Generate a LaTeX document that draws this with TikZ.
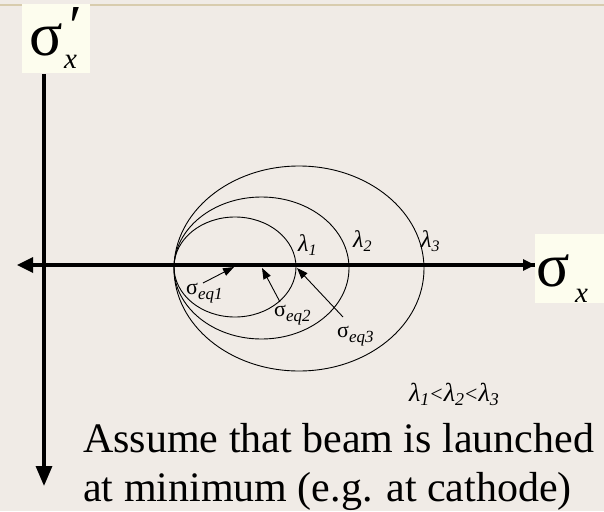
\documentclass[tikz,border=0pt]{standalone}
\usepackage{fontspec}
\setmainfont{Liberation Serif}
\usetikzlibrary{arrows.meta}
\definecolor{bgc}{RGB}{240,235,230}
\definecolor{boxc}{RGB}{253,253,238}
\definecolor{topc}{RGB}{216,204,174}
\newcommand{\fs}[1]{\fontsize{#1}{#1}\selectfont}
\tikzset{
  axis/.style={line width=3.3pt, black},
  ell/.style={line width=0.9pt, black},
  eqarrow/.style={line width=0.9pt, -{Triangle[length=11pt,width=8pt]}},
  lbl/.style={inner sep=0pt, anchor=base west},
  labelbox/.style={fill=boxc, draw=none}
}
\begin{document}
\begin{tikzpicture}[x=1pt,y=-1pt]
\useasboundingbox (0,0) rectangle (604,511);
\fill[bgc] (0,0) rectangle (604,511);
\draw[topc, line width=1.6pt] (0,5) -- (604,5);

% ellipses
\draw[ell] (235,267) ellipse [x radius=61, y radius=50];
\draw[ell] (261.5,268) ellipse [x radius=87.5, y radius=71];
\draw[ell] (299,268.5) ellipse [x radius=125, y radius=102.5];

% axes
\coordinate (vtop) at (44,74);
\coordinate (vbot) at (44,486);
\coordinate (hl) at (17,265);
\coordinate (hr) at (535,265);
\draw[axis, -{Triangle[length=20pt,width=16pt]}] (vtop) -- (vbot);
\draw[axis, -{Triangle[length=16pt,width=15pt]}] (536,265) -- (hl);
\draw[axis, -{Triangle[length=12pt,width=11pt]}] (46,265) -- (hr);

% axis labels
\fill[labelbox] (22,4) rectangle (90,73);
\node[lbl] (sy) at (29,56) {\fs{62}σ};
\node[lbl] (syx) at (64,68) {\fs{29}\itshape x};
\node[inner sep=0pt, anchor=north west] (syp) at (69,7) {\fs{58}′};
\fill[labelbox] (535,234) rectangle (604,303);
\node[lbl] (sx) at (536,286) {\fs{62}σ};
\node[lbl] (sxx) at (575,302) {\fs{29}\itshape x};

% lambda labels
\node[lbl] (l1) at (298,251) {\fs{24}\itshape λ\raisebox{-4pt}{\fs{16}1}};
\node[lbl] (l2) at (353,247) {\fs{24}\itshape λ\raisebox{-4pt}{\fs{16}2}};
\node[lbl] (l3) at (421,247) {\fs{24}\itshape λ\raisebox{-4pt}{\fs{16}3}};

% sigma eq labels
\node[lbl] (q1) at (186,294) {\fs{22}σ\raisebox{-5pt}{\fs{17}\itshape eq1}};
\node[lbl] (q2) at (274,316) {\fs{22}σ\raisebox{-5pt}{\fs{17}\itshape eq2}};
\node[lbl] (q3) at (337,337) {\fs{22}σ\raisebox{-5pt}{\fs{17}\itshape eq3}};

\coordinate (t1) at (203,283); \coordinate (p1) at (234,267);
\coordinate (t2) at (280,302); \coordinate (p2) at (262,268);
\coordinate (t3) at (343,317); \coordinate (p3) at (297,268);
\draw[eqarrow] (t1) -- (p1);
\draw[eqarrow] (t2) -- (p2);
\draw[eqarrow] (t3) -- (p3);

% ordering
\node[lbl] (ord) at (409,401) {\fs{26}\itshape λ\raisebox{-4pt}{\fs{18}1}\kern1pt\upshape\fs{22}<\kern1pt\itshape\fs{26}λ\raisebox{-4pt}{\fs{18}2}\kern1pt\upshape\fs{22}<\kern1pt\itshape\fs{26}λ\raisebox{-4pt}{\fs{18}3}};

% text
\node[lbl] (txt1) at (83,452) {\fs{42}Assume that beam is launched};
\node[lbl] (txt2) at (83,501) {\fs{42}at minimum (e.g. at cathode)};
\end{tikzpicture}
\end{document}
